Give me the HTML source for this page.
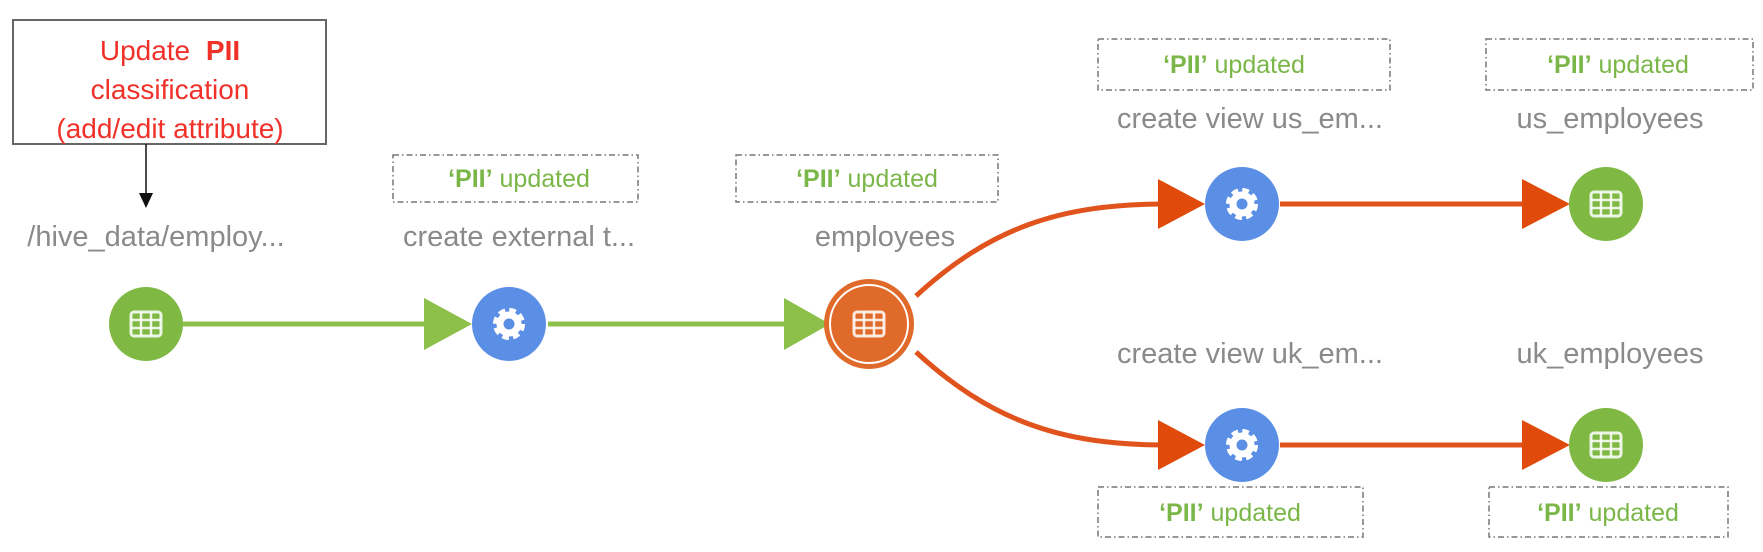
<!DOCTYPE html>
<html><head><meta charset="utf-8"><style>
html,body{margin:0;padding:0;background:#fff;}
svg{display:block;font-family:"Liberation Sans",sans-serif;}
.lbl{fill:#8a8a8a;font-size:29px;text-anchor:middle;}
.pii{fill:#7ab648;font-size:25px;text-anchor:middle;}
.db{fill:none;stroke:#777;stroke-width:1.5;stroke-dasharray:6 3 1.5 3;}
</style></head><body>
<svg width="1763" height="552" viewBox="0 0 1763 552">
<defs>
<g id="grid"><rect x="-15" y="-12" width="30" height="24" rx="3" fill="none" stroke="#fff" stroke-width="3" opacity="0.85"/>
<line x1="-15" y1="-4" x2="15" y2="-4" stroke="#fff" stroke-width="2.5" opacity="0.85"/><line x1="-15" y1="4" x2="15" y2="4" stroke="#fff" stroke-width="2.5" opacity="0.85"/>
<line x1="-5" y1="-12" x2="-5" y2="12" stroke="#fff" stroke-width="2.5" opacity="0.85"/><line x1="5" y1="-12" x2="5" y2="12" stroke="#fff" stroke-width="2.5" opacity="0.85"/></g>
<g id="gear"><circle r="12.5" fill="none" stroke="#fff" stroke-width="7" stroke-dasharray="6 3.8"/><circle r="9" fill="none" stroke="#fff" stroke-width="7"/></g>
</defs>
<rect x="13" y="20" width="313" height="124" fill="#fff" stroke="#666" stroke-width="2"/>
<text x="170" y="60" fill="#f0312a" font-size="28" text-anchor="middle">Update <tspan font-weight="bold" dx="8">PII</tspan></text>
<text x="170" y="99" fill="#f0312a" font-size="28" text-anchor="middle">classification</text>
<text x="170" y="138" fill="#f0312a" font-size="28" text-anchor="middle">(add/edit attribute)</text>
<line x1="146" y1="144" x2="146" y2="194" stroke="#111" stroke-width="1.5"/>
<polygon points="139,193 153,193 146,208" fill="#111"/>
<text class="lbl" x="156" y="246">/hive_data/employ...</text>
<text class="lbl" x="519" y="246">create external t...</text>
<text class="lbl" x="885" y="246">employees</text>
<text class="lbl" x="1250" y="128">create view us_em...</text>
<text class="lbl" x="1610" y="128">us_employees</text>
<text class="lbl" x="1250" y="363">create view uk_em...</text>
<text class="lbl" x="1610" y="363">uk_employees</text>
<rect class="db" x="393" y="155" width="245" height="47"/>
<text class="pii" x="519" y="187"><tspan font-weight="bold">‘PII’</tspan> updated</text>
<rect class="db" x="736" y="155" width="262" height="47"/>
<text class="pii" x="867" y="187"><tspan font-weight="bold">‘PII’</tspan> updated</text>
<rect class="db" x="1098" y="39" width="292" height="51"/>
<text class="pii" x="1234" y="73"><tspan font-weight="bold">‘PII’</tspan> updated</text>
<rect class="db" x="1486" y="39" width="267" height="51"/>
<text class="pii" x="1618" y="73"><tspan font-weight="bold">‘PII’</tspan> updated</text>
<rect class="db" x="1098" y="487" width="265" height="50"/>
<text class="pii" x="1230" y="521"><tspan font-weight="bold">‘PII’</tspan> updated</text>
<rect class="db" x="1489" y="487" width="239" height="50"/>
<text class="pii" x="1608" y="521"><tspan font-weight="bold">‘PII’</tspan> updated</text>
<line x1="183" y1="324" x2="430" y2="324" stroke="#8cc04b" stroke-width="5"/>
<polygon points="424,298 472,324 424,350" fill="#8cc04b"/>
<line x1="548" y1="324" x2="790" y2="324" stroke="#8cc04b" stroke-width="5"/>
<polygon points="784,298 830,324 784,350" fill="#8cc04b"/>
<path d="M916,296 C990,228 1060,204 1165,204" fill="none" stroke="#e0531c" stroke-width="5"/>
<polygon points="1158,179 1205,204 1158,229" fill="#e04a0a"/>
<path d="M916,352 C990,420 1060,445 1165,445" fill="none" stroke="#e0531c" stroke-width="5"/>
<polygon points="1158,420 1205,445 1158,470" fill="#e04a0a"/>
<line x1="1280" y1="204" x2="1530" y2="204" stroke="#e0531c" stroke-width="5"/>
<polygon points="1522,179 1570,204 1522,229" fill="#e04a0a"/>
<line x1="1280" y1="445" x2="1530" y2="445" stroke="#e0531c" stroke-width="5"/>
<polygon points="1522,420 1570,445 1522,470" fill="#e04a0a"/>
<circle cx="146" cy="324" r="37" fill="#7fb843"/><use href="#grid" x="146" y="324"/>
<circle cx="509" cy="324" r="37" fill="#5b8fe6"/><use href="#gear" x="509" y="324"/>
<circle cx="869" cy="324" r="45" fill="#e06a2a"/><circle cx="869" cy="324" r="39" fill="none" stroke="#fff" stroke-width="2"/><use href="#grid" x="869" y="324"/>
<circle cx="1242" cy="204" r="37" fill="#5b8fe6"/><use href="#gear" x="1242" y="204"/>
<circle cx="1606" cy="204" r="37" fill="#7fb843"/><use href="#grid" x="1606" y="204"/>
<circle cx="1242" cy="445" r="37" fill="#5b8fe6"/><use href="#gear" x="1242" y="445"/>
<circle cx="1606" cy="445" r="37" fill="#7fb843"/><use href="#grid" x="1606" y="445"/>
</svg>
</body></html>
